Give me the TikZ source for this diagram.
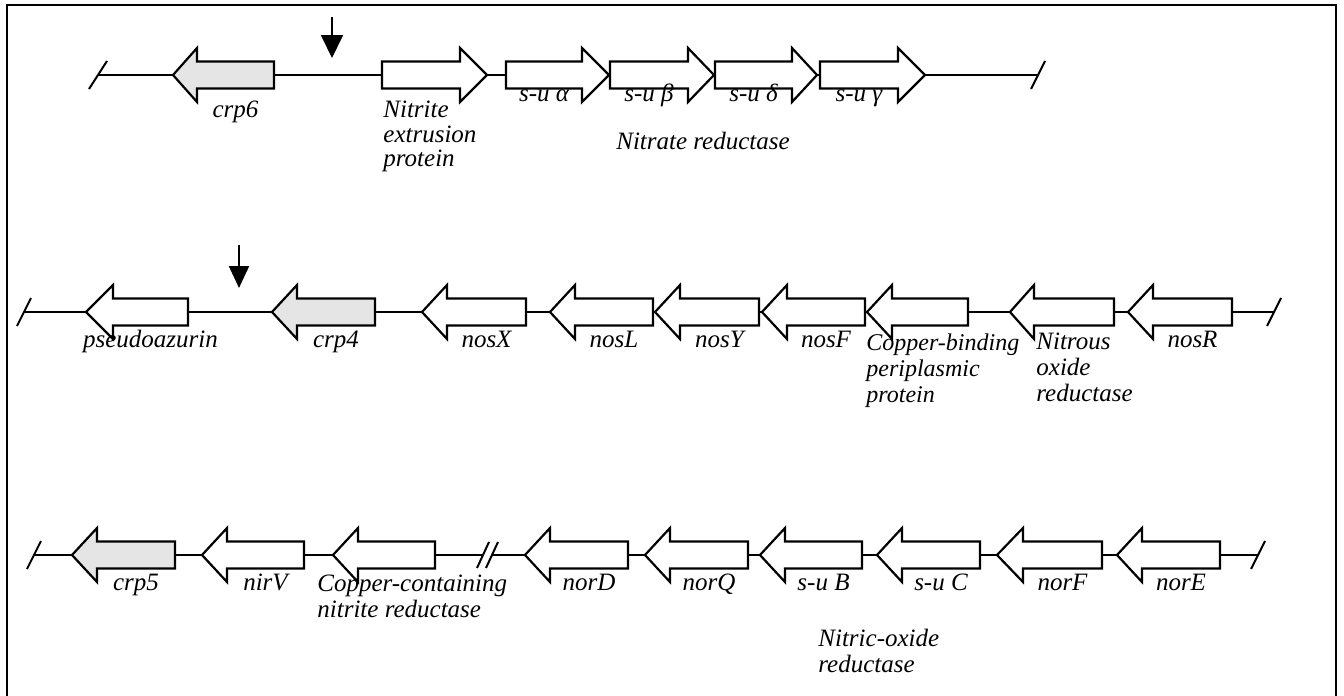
\documentclass[tikz,border=0pt]{standalone}
\usepackage{fontspec}
\setmainfont{Liberation Serif}
\usetikzlibrary{arrows.meta}
\newcommand\geneleft[6]{%
  \draw[#6] (#2,#5) -- (#3,#5-27) -- (#3,#5-13.5) -- (#4,#5-13.5) -- (#4,#5+13.5) -- (#3,#5+13.5) -- (#3,#5+27) -- cycle;
  \coordinate (#1) at ({(#3+#4)/2},#5);}
\newcommand\generight[6]{%
  \draw[#6] (#4,#5) -- (#3,#5-27) -- (#3,#5-13.5) -- (#2,#5-13.5) -- (#2,#5+13.5) -- (#3,#5+13.5) -- (#3,#5+27) -- cycle;
  \coordinate (#1) at ({(#2+#3)/2},#5);}
\begin{document}
\begin{tikzpicture}[x=0.5pt,y=-0.5pt,
  gene/.style={draw=black,line width=1.1pt,fill=white,line join=miter},
  grey/.style={gene,fill=gray!20},
  dna/.style={line width=1pt},
  frame/.style={line width=1pt},
  lbl/.style={font=\fontsize{12.5}{13}\selectfont\itshape,inner sep=0pt},
  lblone/.style={lbl,font=\fontsize{12.5}{12.25}\selectfont\itshape},
  lblsmall/.style={lbl,font=\fontsize{12}{13}\selectfont\itshape},
  pointer/.style={line width=1pt,-{Triangle[width=11pt,length=11.5pt]}}]
\useasboundingbox (0,0) rectangle (1344,696);
\draw[frame] (7,696) -- (7,5) -- (1336,5) -- (1336,696);

% ---------- row 1 ----------
\coordinate (r1a) at (98,75);
\coordinate (r1b) at (1038,75);
\draw[dna] (r1a) -- (r1b);
\draw[dna] (r1a) ++(-9,14) -- ++(18,-28);
\draw[dna] (r1b) ++(-7,14) -- ++(14,-28);
\geneleft{crp6}{173}{197}{274}{75}{grey}
\generight{nit}{382}{460}{487}{75}{gene}
\generight{sua}{506}{582}{609}{75}{gene}
\generight{sub}{610}{688}{714}{75}{gene}
\generight{sud}{715}{792}{817}{75}{gene}
\generight{sug}{820}{898}{925}{75}{gene}
\coordinate (d1s) at (332,17);
\coordinate (d1e) at (332,58);
\draw[pointer] (d1s) -- (d1e);
\node[lbl,anchor=base] (lcrp6) at ([yshift=-21pt]crp6) {crp6};
\node[lblone,anchor=north west,align=left] (lnit) at (383,101) {Nitrite\\extrusion\\protein};
\node[lbl,anchor=base] (lsua) at ([yshift=-13pt]sua) {s-u α};
\node[lbl,anchor=base] (lsub) at ([yshift=-13pt]sub) {s-u β};
\node[lbl,anchor=base] (lsud) at ([yshift=-13pt]sud) {s-u δ};
\node[lbl,anchor=base] (lsug) at ([yshift=-13pt]sug) {s-u γ};
\node[lbl,anchor=base] (lnar) at (703,149) {Nitrate reductase};

% ---------- row 2 ----------
\coordinate (r2a) at (24,312);
\coordinate (r2b) at (1274,312);
\draw[dna] (r2a) -- (r2b);
\draw[dna] (r2a) ++(-7,14) -- ++(14,-28);
\draw[dna] (r2b) ++(-7,14) -- ++(14,-28);
\geneleft{paz}{86}{113}{188}{312}{gene}
\geneleft{crp4}{272}{297}{375}{312}{grey}
\geneleft{nosX}{422}{447}{526}{312}{gene}
\geneleft{nosL}{550}{575}{653}{312}{gene}
\geneleft{nosY}{655}{680}{759}{312}{gene}
\geneleft{nosF}{762}{787}{865}{312}{gene}
\geneleft{cub}{867}{892}{968}{312}{gene}
\geneleft{nos}{1010}{1034}{1114}{312}{gene}
\geneleft{nosR}{1128}{1153}{1232}{312}{gene}
\coordinate (d2s) at (239,245);
\coordinate (d2e) at (239,288);
\draw[pointer,-{Triangle[width=10pt,length=11pt]}] (d2s) -- (d2e);
\node[lbl,anchor=base] (lpaz) at ([yshift=-17.5pt]paz) {pseudoazurin};
\node[lbl,anchor=base] (lcrp4) at ([yshift=-17.5pt]crp4) {crp4};
\node[lbl,anchor=base] (lnosX) at ([yshift=-17.5pt]nosX) {nosX};
\node[lbl,anchor=base] (lnosL) at ([yshift=-17.5pt]nosL) {nosL};
\node[lbl,anchor=base] (lnosY) at ([yshift=-17.5pt]nosY) {nosY};
\node[lbl,anchor=base] (lnosF) at ([yshift=-17.5pt]nosF) {nosF};
\node[lblsmall,anchor=north west,align=left] (lcub) at (866,333) {Copper-binding\\periplasmic\\protein};
\node[lbl,anchor=north west,align=left] (lnos) at (1036,333) {Nitrous\\oxide\\reductase};
\node[lbl,anchor=base] (lnosR) at ([yshift=-17.5pt]nosR) {nosR};

% ---------- row 3 ----------
\coordinate (r3a) at (34,555);
\coordinate (bk1) at (483,555);
\coordinate (bk2) at (492,555);
\coordinate (r3b) at (1258,555);
\draw[dna] (r3a) -- (bk1);
\draw[dna] (bk2) -- (r3b);
\draw[dna] (r3a) ++(-7,14) -- ++(14,-28);
\draw[dna] (bk1) ++(-6,13) -- ++(12,-26);
\draw[dna] (bk2) ++(-6,13) -- ++(12,-26);
\draw[dna] (r3b) ++(-7,14) -- ++(14,-28);
\geneleft{crp5}{72}{97}{175}{555}{grey}
\geneleft{nirV}{202}{227}{304}{555}{gene}
\geneleft{nirK}{333}{358}{435}{555}{gene}
\geneleft{norD}{525}{550}{628}{555}{gene}
\geneleft{norQ}{645}{670}{748}{555}{gene}
\geneleft{suB}{760}{785}{862}{555}{gene}
\geneleft{suC}{877}{902}{980}{555}{gene}
\geneleft{norF}{997}{1023}{1102}{555}{gene}
\geneleft{norE}{1117}{1142}{1220}{555}{gene}
\node[lbl,anchor=base] (lcrp5) at ([yshift=-17.5pt]crp5) {crp5};
\node[lbl,anchor=base] (lnirV) at ([yshift=-17.5pt]nirV) {nirV};
\node[lbl,anchor=north west,align=left] (lnirK) at (317,575) {Copper-containing\\nitrite reductase};
\node[lbl,anchor=base] (lnorD) at ([yshift=-17.5pt]norD) {norD};
\node[lbl,anchor=base] (lnorQ) at ([yshift=-17.5pt]norQ) {norQ};
\node[lbl,anchor=base] (lsuB) at ([yshift=-17.5pt]suB) {s-u B};
\node[lbl,anchor=base] (lsuC) at ([yshift=-17.5pt]suC) {s-u C};
\node[lbl,anchor=base] (lnorF) at ([yshift=-17.5pt]norF) {norF};
\node[lbl,anchor=base] (lnorE) at ([yshift=-17.5pt]norE) {norE};
\node[lbl,anchor=north west,align=left] (lnor) at (818,629) {Nitric-oxide\\reductase};
\end{tikzpicture}
\end{document}
